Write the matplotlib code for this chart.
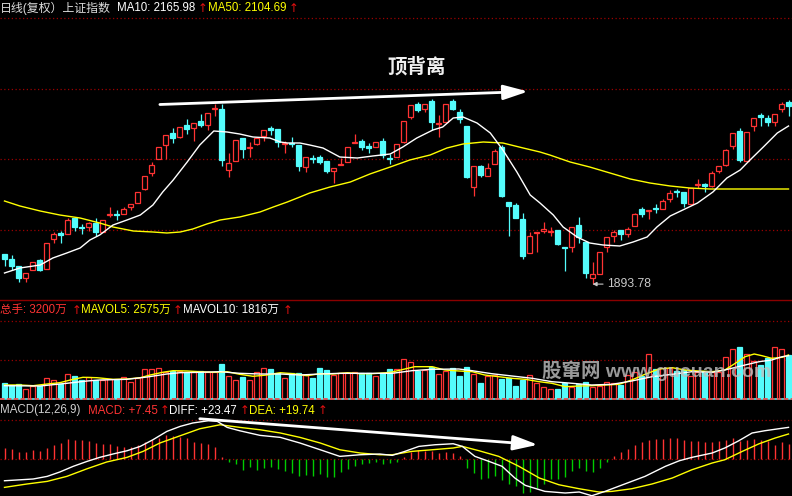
import matplotlib
matplotlib.use("Agg")
import matplotlib.pyplot as plt
from matplotlib.patches import Rectangle
from matplotlib.lines import Line2D
import numpy as np

plt.rcParams['font.family'] = ['Liberation Sans', 'Noto Sans CJK SC', 'DejaVu Sans']

RED = '#ff3333'
CYAN = '#54fcfc'
YELLOW = '#ffff00'
WHITE = '#ffffff'
GREEN = '#00cc00'
GRID = '#9b0000'
UP_RED = '#e01010'

# daily candles (index points)
opens = [1954, 1944, 1930, 1906, 1922, 1942, 1924, 1984, 1996, 1994,
         2026, 2008, 2008, 2016, 1998, 2032, 2034, 2034, 2048, 2056,
         2084, 2116, 2144, 2172, 2196, 2188, 2212, 2206, 2220, 2212,
         2244, 2244, 2122, 2140, 2186, 2166, 2174, 2190, 2206, 2204,
         2174, 2176, 2172, 2128, 2146, 2148, 2140, 2120, 2132, 2138,
         2176, 2180, 2170, 2168, 2180, 2146, 2148, 2178, 2228, 2254,
         2244, 2260, 2214, 2218, 2260, 2238, 2210, 2088, 2130, 2110,
         2134, 2168, 2058, 2052, 2024, 1956, 1996, 2000, 1998, 2002,
         1968, 1968, 2012, 1978, 1906, 1914, 1968, 1990, 2002, 1994,
         2010, 2044, 2040, 2046, 2044, 2064, 2080, 2078, 2054, 2092,
         2094, 2090, 2120, 2132, 2170, 2200, 2140, 2210, 2232, 2226,
         2218, 2244, 2258]
highs = [1954, 1952, 1930, 1916, 1938, 1944, 1976, 1998, 2000, 2026,
         2026, 2014, 2018, 2026, 2022, 2048, 2042, 2048, 2054, 2078,
         2110, 2138, 2168, 2192, 2206, 2208, 2224, 2216, 2234, 2236,
         2254, 2254, 2156, 2182, 2186, 2178, 2186, 2202, 2210, 2204,
         2180, 2188, 2172, 2148, 2152, 2152, 2140, 2126, 2146, 2168,
         2194, 2184, 2176, 2178, 2186, 2154, 2174, 2220, 2252, 2258,
         2254, 2264, 2232, 2254, 2264, 2244, 2210, 2130, 2132, 2136,
         2164, 2172, 2058, 2056, 2036, 1998, 1998, 2018, 2008, 2002,
         1968, 2008, 2028, 1978, 1938, 1958, 1988, 2002, 2002, 2008,
         2036, 2048, 2042, 2054, 2064, 2082, 2084, 2078, 2086, 2104,
         2096, 2120, 2130, 2164, 2196, 2206, 2198, 2226, 2236, 2232,
         2234, 2258, 2262]
lows = [1930, 1922, 1898, 1898, 1922, 1920, 1924, 1976, 1976, 1994,
        2000, 1994, 2000, 1990, 1998, 2028, 2022, 2034, 2042, 2056,
        2082, 2110, 2144, 2144, 2176, 2186, 2194, 2180, 2208, 2202,
        2230, 2130, 2108, 2140, 2146, 2148, 2172, 2180, 2192, 2168,
        2156, 2168, 2120, 2118, 2136, 2134, 2116, 2096, 2132, 2138,
        2176, 2162, 2156, 2168, 2146, 2134, 2148, 2176, 2224, 2238,
        2238, 2202, 2188, 2218, 2242, 2216, 2106, 2070, 2108, 2110,
        2134, 2068, 1990, 2026, 1944, 1956, 1958, 1996, 1990, 1972,
        1920, 1958, 1976, 1906, 1893.78, 1914, 1958, 1978, 1982, 1988,
        2010, 2028, 2024, 2036, 2044, 2058, 2068, 2048, 2054, 2086,
        2078, 2088, 2116, 2130, 2164, 2138, 2140, 2200, 2210, 2210,
        2210, 2238, 2230]
closes = [1944, 1930, 1906, 1916, 1938, 1922, 1976, 1994, 1992, 2022,
          2008, 2006, 2016, 1998, 2022, 2034, 2032, 2044, 2054, 2078,
          2110, 2132, 2168, 2192, 2186, 2208, 2204, 2216, 2212, 2236,
          2246, 2142, 2136, 2182, 2164, 2168, 2186, 2202, 2202, 2178,
          2176, 2174, 2130, 2148, 2144, 2138, 2120, 2126, 2134, 2168,
          2178, 2168, 2166, 2178, 2152, 2144, 2174, 2220, 2252, 2242,
          2254, 2218, 2216, 2254, 2244, 2224, 2108, 2130, 2112, 2126,
          2160, 2070, 2050, 2026, 1950, 1990, 1998, 2004, 2000, 1974,
          1966, 2008, 1988, 1916, 1914, 1958, 1988, 1998, 1994, 2004,
          2034, 2034, 2042, 2044, 2060, 2076, 2078, 2056, 2086, 2094,
          2090, 2116, 2130, 2162, 2196, 2142, 2198, 2226, 2228, 2218,
          2234, 2254, 2250]

# volume, 万手
volumes = [1152, 1008, 1080, 720, 936, 936, 1512, 1368, 1080, 1800,
           1656, 1368, 1584, 1368, 1368, 1440, 1368, 1584, 1224, 1512,
           2160, 2160, 2232, 1944, 2016, 2016, 1944, 1944, 2016, 1944,
           1944, 2520, 1656, 1368, 1584, 1368, 1944, 2232, 2160, 1872,
           1512, 1872, 1872, 1728, 1512, 2232, 2088, 1728, 1872, 1872,
           1944, 1872, 1872, 1656, 1872, 2160, 2160, 2880, 2664, 2016,
           2088, 2304, 1800, 2016, 2232, 1656, 2304, 1800, 1152, 1656,
           1728, 1440, 1512, 936, 1368, 1728, 1152, 864, 720, 720,
           1152, 864, 1080, 1224, 864, 936, 1224, 1152, 1008, 1728,
           1944, 1656, 3240, 2160, 2232, 2232, 2016, 2088, 1656, 1944,
           2016, 1944, 1944, 3024, 3600, 3744, 3240, 2736, 2448, 2952,
           3744, 3600, 3168]

# MACD histogram
macd_hist = [8.6, 8.0, 5.8, 5.8, 7.2, 6.4, 9.0, 11.2, 13.0, 15.8,
             15.2, 15.0, 14.4, 12.6, 11.8, 11.8, 10.4, 9.8, 9.6, 11.2,
             13.8, 15.2, 17.0, 19.2, 18.6, 17.4, 16.6, 13.8, 12.6, 11.8,
             9.8, 1.6, -2.6, -4.2, -8.8, -6.6, -8.8, -7.4, -6.2, -8.0,
             -9.6, -11.4, -13.4, -12.8, -13.4, -12.2, -14.2, -14.6, -10.6, -8.2,
             -5.6, -4.2, -3.4, -2.6, -3.8, -3.4, -2.6, 1.8, 5.8, 7.2,
             6.6, 6.4, 4.6, 5.4, 4.6, 2.4, -7.4, -11.4, -16.0, -15.4,
             -13.4, -16.8, -20.2, -21.4, -27.4, -26.6, -23.4, -20.2, -16.0, -16.2,
             -14.6, -9.6, -7.4, -9.6, -10.6, -7.4, -2.2, 2.4, 5.4, 8.0,
             11.2, 13.4, 15.2, 15.8, 16.0, 16.6, 16.6, 15.2, 14.4, 14.4,
             13.4, 13.4, 14.4, 15.2, 17.0, 14.4, 15.2, 15.8, 15.2, 14.4,
             11.2, 13.4, 11.8]

# indicator lines, read at bar positions
ma10_x = [0, 2.2, 5.1, 6.9, 8.9, 10.8, 12.2, 13.6, 15.5, 17.5, 19.4, 21.2, 22.6, 24.1, 26.1,
          27.9, 29.9, 31.8, 33.6, 35.5, 37.9, 39.4, 40.4, 42.2, 43.6, 45.5, 47.9, 50.4, 52.6,
          55.1, 56.9, 58.9, 61.2, 62.6, 64.1, 65.5, 67.5, 69.4, 71.2, 73.2, 75.1, 76.5, 78.4,
          79.8, 81.8, 83.6, 85.5, 87.9, 89.8, 91.8, 93.2, 95.1, 96.9, 99.0, 101.2, 103.2,
          105.1, 106.5, 108.4, 110.4, 112]
ma10 = [1916, 1926, 1932, 1946, 1956, 1966, 1982, 1992, 2012, 2022, 2032, 2052, 2078, 2102, 2138,
        2172, 2200, 2198, 2194, 2188, 2186, 2178, 2176, 2176, 2172, 2166, 2148, 2146, 2150,
        2154, 2168, 2186, 2202, 2208, 2226, 2228, 2216, 2196, 2162, 2118, 2072, 2056, 2032,
        2008, 1988, 1976, 1972, 1970, 1978, 1988, 2008, 2030, 2042, 2056, 2078, 2106,
        2122, 2142, 2168, 2196, 2210]
ma50_x = [0, 2.2, 5.1, 7.9, 10.8, 13.6, 15.5, 18.4, 21.2, 23.2, 25.1, 26.9, 28.9, 30.8, 33.6,
          36.5, 38.4, 40.4, 42.2, 43.6, 46.5, 49.4, 52.2, 55.1, 57.9, 60.8, 63.2, 65.5, 68.4,
          71.2, 74.1, 76.5, 77.9, 80.8, 83.6, 86.5, 89.4, 92.2, 95.1, 97.9, 100.8, 103.6, 108.4, 112]
ma50 = [2060, 2050, 2040, 2032, 2026, 2016, 2008, 2000, 1998, 1996, 1998, 2004, 2014, 2022, 2028,
        2038, 2048, 2058, 2068, 2076, 2088, 2098, 2114, 2128, 2142, 2152, 2166, 2174, 2178,
        2176, 2166, 2158, 2152, 2138, 2128, 2116, 2104, 2096, 2090, 2086, 2084, 2084, 2084, 2084]

mavol5_x = [0, 2.2, 4.1, 6.1, 7.9, 9.4, 11.2, 13.2, 15.5, 17.5, 19.4, 20.8, 22.6, 24.1, 26.1,
            27.9, 29.8, 31.8, 33.6, 35.5, 37.5, 39.4, 41.2, 43.2, 45.1, 46.9, 49.0, 50.8, 52.6,
            54.6, 55.4, 57.2, 58.6, 61.1, 62.9, 64.9, 66.8, 68.6, 70.6, 72.5, 74.4, 76.4, 78.2,
            80.1, 82.1, 83.9, 85.8, 87.8, 89.6, 91.5, 93.5, 95.4, 97.2, 99.2, 101.1, 102.9,
            104.4, 105.8, 107.1, 108.2, 109.6, 111.1, 112]
mavol5 = [1008, 1008, 958, 1080, 1174, 1368, 1562, 1534, 1418, 1440, 1534, 1728, 1922, 2038, 2016,
          1966, 1922, 1966, 1778, 1634, 1728, 1894, 1822, 1678, 1822, 1800, 1894, 1822, 1822,
          1894, 1944, 2160, 2326, 2326, 2088, 2016, 1966, 1728, 1606, 1490, 1418, 1246, 1130,
          886, 936, 958, 1008, 1058, 1368, 1778, 2160, 2254, 2088, 2016, 1966, 2088,
          2570, 3046, 3240, 3118, 2930, 3002, 3168]
mavol10_x = [0, 5.1, 6.5, 8.9, 11.8, 13.6, 17.5, 20.4, 23.2, 25.1, 27.9, 30.8, 33.6, 36.5, 39.4,
             42.2, 45.1, 47.9, 50.8, 53.6, 55.4, 58.2, 61.1, 64.9, 66.8, 69.6, 72.5, 75.4, 78.2,
             81.1, 83.9, 86.8, 89.6, 92.5, 95.4, 98.2, 101.1, 102.9, 105.8, 107.8, 109.6, 111.1, 112]
mavol10 = [958, 936, 1008, 1130, 1296, 1368, 1418, 1584, 1800, 1894, 1922, 1966, 1850, 1800, 1800,
           1728, 1800, 1850, 1850, 1850, 1850, 2038, 2138, 2160, 2038, 1822, 1656, 1490, 1246,
           1130, 1008, 1058, 1296, 1606, 1778, 1966, 1922, 2088, 2448, 2686, 2808, 3046, 3118]

diff_x = [0, 4.1, 6.1, 7.9, 9.8, 11.8, 13.6, 15.5, 17.5, 19.4, 21.2, 23.2, 25.1, 26.9, 29.1,
          30.4, 31.8, 33.6, 36.5, 39.4, 42.2, 45.1, 47.9, 50.8, 53.6, 55.4, 57.2, 59.2, 61.5,
          64.1, 65.4, 67.2, 69.2, 71.1, 72.9, 74.4, 77.2, 80.1, 82.1, 83.9, 85.8, 88.6, 91.5,
          94.4, 96.4, 98.2, 101.1, 102.9, 104.9, 106.8, 108.6, 110.6, 112]
diff = [-17.6, -16.2, -14.1, -10.6, -6.1, -2.1, 1.1, 3.8, 6.4, 9.9, 15.2, 21.9, 25.9, 28.6, 30.4,
        29.9, 25.1, 22.4, 18.7, 17.1, 12.6, 7.2, 1.9, 3.2, 3.8, 2.7, 5.9, 9.9, 11.2,
        12.0, 9.9, 1.9, -2.1, -6.1, -15.4, -21.3, -26.1, -27.4, -26.6, -29.6, -26.1, -20.2, -14.1,
        -6.1, -1.6, 1.1, 4.6, 8.6, 14.4, 20.6, 22.4, 24.0, 25.1]
dea_x = [0, 3.2, 6.1, 8.9, 11.8, 14.6, 17.5, 19.8, 22.2, 25.1, 27.9, 30.8, 33.6, 36.5, 39.4,
         42.2, 45.1, 47.9, 50.8, 53.6, 55.4, 58.2, 61.1, 64.1, 65.4, 67.8, 70.6, 73.5, 76.4,
         79.2, 82.1, 84.9, 86.8, 89.6, 92.5, 95.4, 98.2, 101.1, 102.9, 105.4, 107.8, 110.1, 112]
dea = [-22.9, -20.2, -18.1, -14.1, -8.0, -2.6, 1.1, 5.9, 12.6, 18.4, 24.0, 27.2, 25.1, 23.2, 20.6,
       17.1, 12.6, 7.2, 4.6, 3.2, 3.2, 5.9, 7.2, 8.6, 9.9, 6.4, 1.9, -6.1, -15.4,
       -20.8, -24.0, -26.6, -26.1, -24.0, -20.2, -15.4, -8.8, -3.4, -0.8, 5.9, 12.0, 16.6, 19.8]

main_grid = [2003, 2144, 2285, 2426]
vol_grid = [2808, 5616]
macd_grid = [0, 31]

# annotation anchors
top_arrow = ((22.2, 2253), (74.8, 2279))
macd_arrow = ((27.9, 32.0), (76.2, 11.2))
low_idx = 84

W, H = 792, 496
fig = plt.figure(figsize=(W / 100, H / 100), dpi=100, facecolor='black')


def fy(py):
    return 1 - py / H


ax_k = fig.add_axes([0, fy(300), 1, 300 / H])
ax_v = fig.add_axes([0, fy(399), 1, 99 / H])
ax_m = fig.add_axes([0, 0, 1, 97 / H])
for ax in (ax_k, ax_v, ax_m):
    ax.set_facecolor('black')
    ax.set_xlim(-0.643, 112.5)
    ax.set_xticks([])
    ax.set_yticks([])
    for s in ax.spines.values():
        s.set_visible(False)

ax_k.set_ylim(1862, 2462)
ax_v.set_ylim(0, 7128)
ax_m.set_ylim(-29.8, 47.8)

for ax, levels in ((ax_k, main_grid), (ax_v, vol_grid), (ax_m, macd_grid)):
    for lv in levels:
        ax.axhline(lv, color=GRID, lw=0.9, dashes=(1, 2), zorder=0)

# candles
bw = 0.64
n = len(opens)
for i in range(n):
    o, h, l, c = opens[i], highs[i], lows[i], closes[i]
    top, bot = max(o, c), min(o, c)
    if c >= o:
        ax_k.vlines(i, top, h, color=RED, lw=0.9, zorder=2)
        ax_k.vlines(i, l, bot, color=RED, lw=0.9, zorder=2)
        ax_k.add_patch(Rectangle((i - bw / 2, bot), bw, max(top - bot, 0.5),
                                 facecolor='black', edgecolor=RED, lw=0.9, zorder=2))
    else:
        ax_k.vlines(i, l, h, color=CYAN, lw=0.9, zorder=2)
        ax_k.add_patch(Rectangle((i - bw / 2, bot), bw, max(top - bot, 0.5),
                                 facecolor=CYAN, edgecolor=CYAN, lw=0.9, zorder=2))

ax_k.plot(ma50_x, ma50, color=YELLOW, lw=1.0, zorder=3)
ax_k.plot(ma10_x, ma10, color=WHITE, lw=1.0, zorder=3)

# volume bars
for i in range(n):
    if closes[i] >= opens[i]:
        ax_v.add_patch(Rectangle((i - bw / 2, 0), bw, volumes[i],
                                 facecolor='black', edgecolor=RED, lw=0.9, zorder=2))
    else:
        ax_v.add_patch(Rectangle((i - bw / 2, 0), bw, volumes[i],
                                 facecolor=CYAN, edgecolor=CYAN, lw=0.9, zorder=2))
ax_v.plot(mavol5_x, mavol5, color=YELLOW, lw=1.0, zorder=3)
ax_v.plot(mavol10_x, mavol10, color=WHITE, lw=1.0, zorder=3)

# MACD
hist = np.array(macd_hist)
cols = [RED if v >= 0 else GREEN for v in hist]
ax_m.vlines(np.arange(n), 0, hist, colors=cols, lw=1.0, zorder=2)
ax_m.plot(dea_x, dea, color=YELLOW, lw=1.0, zorder=3)
ax_m.plot(diff_x, diff, color=WHITE, lw=1.0, zorder=3)

# divergence arrows
arrow_style = dict(arrowstyle='-|>,head_length=1.5,head_width=0.45', color='white',
                   lw=2.0, mutation_scale=10, shrinkA=0, shrinkB=0)
ax_k.annotate('', xy=top_arrow[1], xytext=top_arrow[0], arrowprops=arrow_style, zorder=5)
ax_m.annotate('', xy=macd_arrow[1], xytext=macd_arrow[0], arrowprops=arrow_style, zorder=5)

# lowest point label
ax_k.annotate(f'{lows[low_idx]:.2f}', xy=(low_idx, lows[low_idx]),
              xytext=(low_idx + 2.1, lows[low_idx]), color='#c8c8c8', fontsize=8.8,
              ha='left', va='center',
              arrowprops=dict(arrowstyle='-|>', color='#c8c8c8', lw=0.8,
                              mutation_scale=6, shrinkA=1, shrinkB=0))

# panel separators
fig.add_artist(Line2D([0, 1], [fy(300)] * 2, color='#8b0000', lw=1.0))
fig.add_artist(Line2D([0, 1], [fy(398.5)] * 2, color=CYAN, lw=1.1))
fig.add_artist(Line2D([0, 1], [fy(398.5)] * 2, color=RED, lw=1.1, dashes=(3, 1.5)))


def label(px, py, s, color, size=8.3, **kw):
    fig.text(px / W, fy(py), s, color=color, fontsize=size, ha='left', va='center', **kw)


def up_mark(px, py):
    fig.text(px / W, fy(py), '↑', color=UP_RED, fontsize=8.5, ha='left', va='center',
             family=['DejaVu Sans'])


# header texts
label(0, 8, '日线(复权）上证指数', '#dcdcdc', size=8.6)
label(117, 8, 'MA10: 2165.98', WHITE)
up_mark(198, 8)
label(208, 8, 'MA50: 2104.69', YELLOW)
up_mark(289, 8)

label(0, 310, '总手: 3200万', RED)
up_mark(72, 310)
label(81, 310, 'MAVOL5: 2575万', YELLOW)
up_mark(173, 310)
label(183, 310, 'MAVOL10: 1816万', WHITE)
up_mark(283, 310)

label(0, 410.5, 'MACD(12,26,9)', '#d0d0d0')
label(88, 410.5, 'MACD: +7.45', RED)
up_mark(160, 410.5)
label(169, 410.5, 'DIFF: +23.47', WHITE)
up_mark(240, 410.5)
label(249, 410.5, 'DEA: +19.74', YELLOW)
up_mark(318, 410.5)

fig.text(417 / W, fy(67), '顶背离', color='#f0f0f0', fontsize=14, fontweight='bold',
         ha='center', va='center', family=['Noto Sans CJK SC'])

# watermark
fig.text(542 / W, fy(371), '股窜网 www.gucuan.com', color='#c0c0c0', alpha=0.8,
         fontsize=14, fontweight='bold', ha='left', va='center', zorder=10)

fig.savefig('out.png', dpi=100, facecolor='black')
